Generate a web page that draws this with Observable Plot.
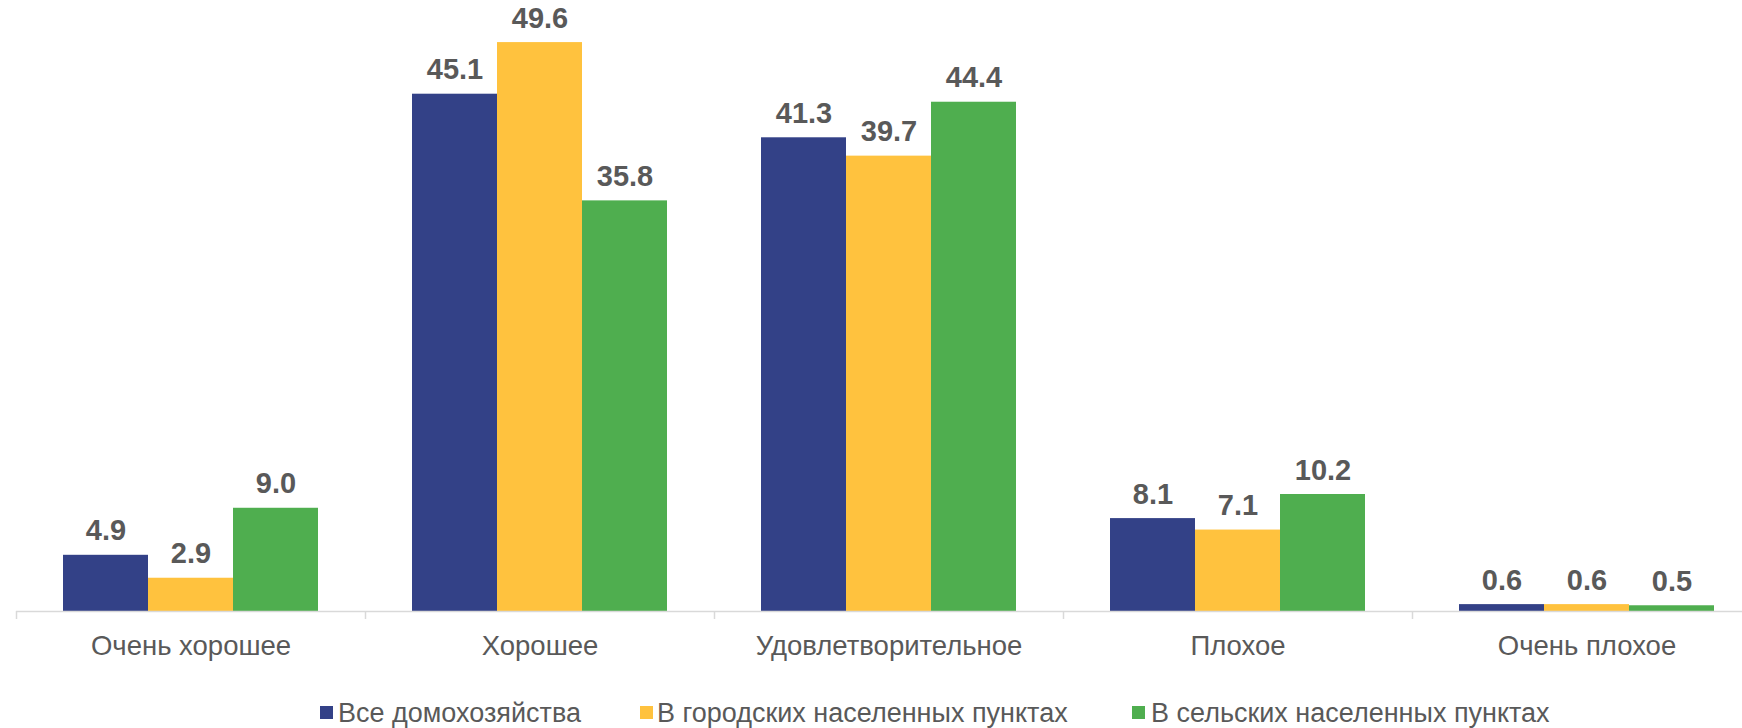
<!DOCTYPE html>
<html>
<head>
<meta charset="utf-8">
<script src="https://cdn.jsdelivr.net/npm/d3@7"></script>
<script src="https://cdn.jsdelivr.net/npm/@observablehq/plot@0.6"></script>
<style>
  html, body { margin: 0; padding: 0; background: #fff; }
  #wrap { width: 1742px; overflow: hidden; font-family: "Liberation Sans", Arial, sans-serif; }
  #chart svg { display: block; }
  #legend { position: relative; width: 1742px; height: 48px; }
  .sw { position: absolute; top: 26px; width: 13px; height: 13px; }
  .lt { position: absolute; top: 20px; font-size: 27px; line-height: 27px; color: #595959; white-space: nowrap; }
</style>
</head>
<body>
<div id="wrap"><div id="chart"></div><div id="legend"></div></div>
<script>
const categories = ["Очень хорошее", "Хорошее", "Удовлетворительное", "Плохое", "Очень плохое"];
const seriesNames = ["Все домохозяйства", "В городских населенных пунктах", "В сельских населенных пунктах"];
const allHouseholds = [4.9, 45.1, 41.3, 8.1, 0.6];
const urban = [2.9, 49.6, 39.7, 7.1, 0.6];
const rural = [9.0, 35.8, 44.4, 10.2, 0.5];
const colors = ["#334187", "#FFC23E", "#4FAE4F"];

const seriesValues = [allHouseholds, urban, rural];
const rows = seriesValues.map((vals, s) => categories.map((c, i) => ({category: c, series: seriesNames[s], value: vals[i]})));

const band = 349, pad = 47, bw = 85;
const marks = [];
rows.forEach((data, s) => {
  marks.push(Plot.barY(data, {
    x: "category", y: "value", fill: colors[s],
    insetLeft: pad + bw * s, insetRight: band - pad - bw * (s + 1)
  }));
});
rows.forEach((data, s) => {
  marks.push(Plot.text(data, {
    x: "category", y: "value", text: d => d.value.toFixed(1),
    dx: (s - 1) * bw, dy: -15, lineAnchor: "bottom",
    fontSize: 29, fontWeight: "bold", fill: "#595959"
  }));
});
marks.push(Plot.ruleY([0], {stroke: "#d9d9d9", strokeWidth: 1.5}));
marks.push(Plot.ruleX(categories, {x: d => d, y1: 0, y2: 0, insetBottom: -8, dx: -band / 2, stroke: "#d9d9d9", strokeWidth: 1.5}));
marks.push(Plot.axisX({tickSize: 0, tickPadding: 24, fontSize: 27.5, color: "#595959", label: null}));

const chart = Plot.plot({
  width: 1742,
  height: 680,
  marginLeft: 16,
  marginRight: -19,
  marginTop: 37.5,
  marginBottom: 69,
  style: {fontFamily: "'Liberation Sans', Arial, sans-serif", overflow: "hidden", background: "#fff"},
  x: {domain: categories, padding: 0, axis: null},
  y: {domain: [0, 50], axis: null},
  marks
});
document.getElementById("chart").appendChild(chart);

const legendPos = [{sq: 320, tx: 338}, {sq: 640, tx: 657}, {sq: 1132, tx: 1151}];
const legend = document.getElementById("legend");
seriesNames.forEach((name, i) => {
  const sw = document.createElement("div");
  sw.className = "sw";
  sw.style.left = legendPos[i].sq + "px";
  sw.style.background = colors[i];
  legend.appendChild(sw);
  const t = document.createElement("div");
  t.className = "lt";
  t.style.left = legendPos[i].tx + "px";
  t.textContent = name;
  legend.appendChild(t);
});
</script>
</body>
</html>
